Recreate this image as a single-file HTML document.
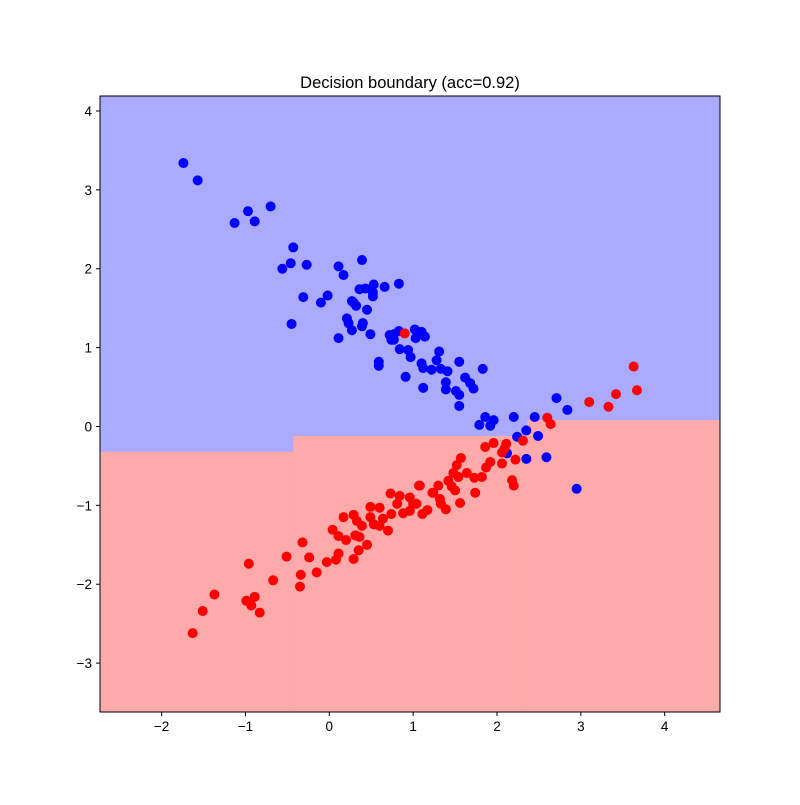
<!DOCTYPE html>
<html><head><meta charset="utf-8"><style>
body{margin:0;background:#fff;}
svg text{font-family:"Liberation Sans","DejaVu Sans",sans-serif;}
</style></head><body>
<svg id="chart" width="800" height="800"></svg>
<script>
const blueX=[-1.74,-1.57,-0.97,-1.13,-0.89,-0.70,-0.43,-0.46,-0.56,-0.27,-0.31,-0.45,-0.10,-0.02,0.11,0.17,0.39,0.36,0.43,0.53,0.52,0.52,0.66,0.83,0.27,0.32,0.29,0.45,0.21,0.23,0.27,0.40,0.39,0.49,0.11,0.72,0.74,0.83,1.02,1.10,1.03,1.14,0.84,0.94,0.97,0.59,0.59,0.91,1.12,1.10,1.12,1.31,1.28,1.22,1.33,1.41,1.55,1.83,1.39,1.39,1.51,1.55,1.62,1.68,1.72,1.55,1.86,1.79,1.92,1.96,2.20,2.45,2.71,2.84,2.35,2.24,2.49,2.12,2.35,2.59,2.95,0.77,0.77];
const blueY=[3.34,3.12,2.73,2.58,2.60,2.79,2.27,2.07,2.00,2.05,1.64,1.30,1.57,1.66,2.03,1.92,2.11,1.74,1.75,1.80,1.65,1.70,1.77,1.81,1.59,1.53,1.57,1.48,1.37,1.31,1.22,1.31,1.27,1.17,1.12,1.16,1.10,1.21,1.23,1.20,1.12,1.14,0.98,0.97,0.88,0.82,0.77,0.63,0.49,0.80,0.74,0.95,0.84,0.72,0.73,0.70,0.82,0.73,0.56,0.47,0.45,0.40,0.62,0.55,0.48,0.26,0.12,0.02,0.01,0.08,0.12,0.12,0.36,0.21,-0.05,-0.13,-0.12,-0.34,-0.41,-0.39,-0.79,1.17,1.10];
const redX=[-1.63,-1.51,-1.37,-0.96,-0.99,-0.89,-0.93,-0.83,-0.67,-0.51,-0.32,-0.34,-0.35,-0.24,-0.15,-0.03,0.08,0.11,0.04,0.11,0.20,0.17,0.29,0.35,0.45,0.29,0.33,0.39,0.31,0.36,0.49,0.49,0.60,0.53,0.60,0.64,0.70,0.74,0.73,0.81,0.84,0.88,0.96,1.00,0.96,1.04,1.08,1.11,1.17,1.23,1.30,1.32,1.33,1.39,1.42,1.48,1.46,1.50,1.52,1.57,1.56,1.54,1.64,1.73,1.74,1.82,1.92,1.87,1.86,1.96,0.90,3.63,3.67,3.42,3.33,3.10,2.60,2.64,2.31,2.22,2.18,2.20,2.06,2.11,2.09,2.06,1.24,1.07];
const redY=[-2.62,-2.34,-2.13,-1.74,-2.21,-2.16,-2.27,-2.36,-1.95,-1.65,-1.47,-1.88,-2.03,-1.66,-1.85,-1.72,-1.69,-1.61,-1.31,-1.39,-1.44,-1.15,-1.68,-1.57,-1.50,-1.12,-1.20,-1.26,-1.38,-1.40,-1.02,-1.15,-1.03,-1.24,-1.26,-1.17,-1.32,-1.11,-0.85,-0.98,-0.88,-1.10,-0.90,-0.98,-1.07,-0.98,-0.75,-1.11,-1.06,-0.84,-0.75,-0.92,-0.98,-1.05,-0.69,-0.59,-0.76,-0.81,-0.49,-0.40,-0.97,-0.64,-0.59,-0.65,-0.84,-0.64,-0.45,-0.52,-0.26,-0.21,1.18,0.76,0.46,0.41,0.25,0.31,0.11,0.03,-0.18,-0.42,-0.68,-0.75,-0.33,-0.22,-0.28,-0.47,-0.84,-0.75];
const boundX=[-2.735,-0.43,2.36,4.66];
const boundY=[-0.32,-0.12,0.08];
const xTicks=[-2,-1,0,1,2,3,4];
const yTicks=[-3,-2,-1,0,1,2,3,4];
const xMin=-2.735,xMax=4.66,yMin=-3.62,yMax=4.19;
const L=100,R=720,T=96,B=712;
const sx=v=>L+(v-xMin)/(xMax-xMin)*(R-L);
const sy=v=>B-(v-yMin)/(yMax-yMin)*(B-T);
const svg=document.getElementById('chart');
const NS='http://www.w3.org/2000/svg';
function mk(tag,attrs,parent){const e=document.createElementNS(NS,tag);for(const k in attrs)e.setAttribute(k,attrs[k]);(parent||svg).appendChild(e);return e;}
let e=mk('rect',{x:L,y:T,width:R-L,height:B-T,fill:'#aaaaff'});


for(let i=0;i<boundY.length;i++){
  e=mk('rect',{x:sx(boundX[i]),y:sy(boundY[i]),width:sx(boundX[i+1])-sx(boundX[i]),height:B-sy(boundY[i]),fill:'#ffaaaa'});
  
  
}
for(let i=0;i<blueX.length;i++){
  e=mk('circle',{cx:sx(blueX[i]),cy:sy(blueY[i]),r:5,fill:'#0000ff'});
  
  
}
for(let i=0;i<redX.length;i++){
  e=mk('circle',{cx:sx(redX[i]),cy:sy(redY[i]),r:5,fill:'#ff0000'});
  
  
}
e=mk('rect',{x:L,y:T,width:R-L,height:B-T,fill:'none',stroke:'#000','stroke-width':1});


xTicks.forEach(t=>{
  const x=sx(t);
  e=mk('line',{x1:x,x2:x,y1:B,y2:B+4,stroke:'#000'});
  
  
  e=mk('text',{x:x,y:B+19,'text-anchor':'middle','font-size':13.5,fill:'#000'});
  e.textContent=t<0?'\u2212'+(-t):String(t);
  
  
});
yTicks.forEach(t=>{
  const y=sy(t);
  e=mk('line',{x1:L-4,x2:L,y1:y,y2:y,stroke:'#000'});
  
  
  e=mk('text',{x:L-8,y:y+5,'text-anchor':'end','font-size':13.5,fill:'#000'});
  e.textContent=t<0?'\u2212'+(-t):String(t);
  
  
});
e=mk('text',{x:410,y:88,'text-anchor':'middle','font-size':16.5,fill:'#000'});
e.textContent='Decision boundary (acc=0.92)';


</script>
</body></html>
